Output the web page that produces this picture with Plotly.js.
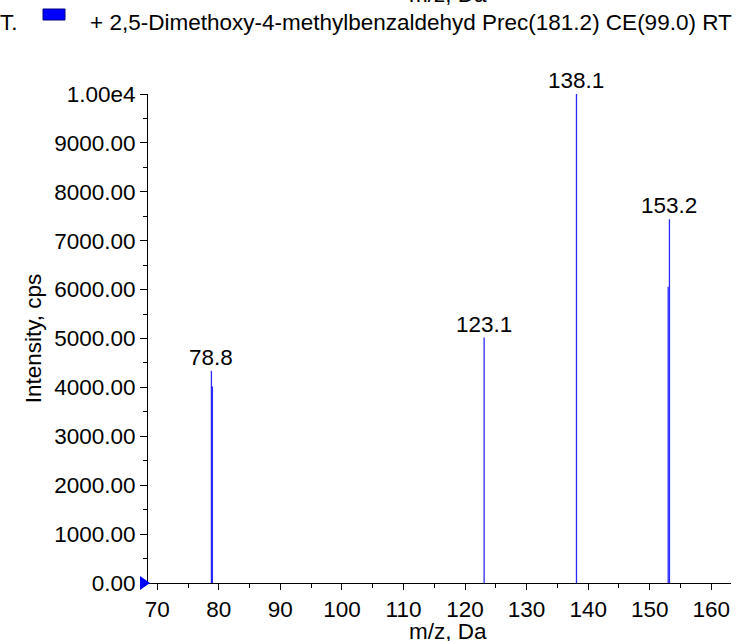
<!DOCTYPE html>
<html>
<head>
<meta charset="utf-8">
<script src="https://cdn.plot.ly/plotly-3.0.1.min.js"></script>
<style>
html,body{margin:0;padding:0;background:#fff;}
#chart{width:746px;height:641px;}
</style>
</head>
<body>
<div id="chart"></div>
<script>
// Data
var peakMz = [78.8, 78.96, 123.1, 138.1, 153.0, 153.2];
var peakIntensity = [4340, 4020, 5020, 10000, 6060, 7440];
var labelMz = [78.8, 123.1, 138.1, 153.2];
var labelIntensity = [4340, 5020, 10000, 7440];
var labelText = ["78.8", "123.1", "138.1", "153.2"];
var xTickVals = [70, 80, 90, 100, 110, 120, 130, 140, 150, 160];
var xTickText = ["70", "80", "90", "100", "110", "120", "130", "140", "150", "160"];
var yTickVals = [0, 1000, 2000, 3000, 4000, 5000, 6000, 7000, 8000, 9000, 10000];
var yTickText = ["0.00", "1000.00", "2000.00", "3000.00", "4000.00", "5000.00", "6000.00", "7000.00", "8000.00", "9000.00", "1.00e4"];
var xTitle = "m/z, Da";
var yTitle = "Intensity, cps";
var legendName = "+ 2,5-Dimethoxy-4-methylbenzaldehyd Prec(181.2) CE(99.0) RT";

var FONT = "Liberation Sans, Arial, sans-serif";
var FS = 22.5;

// stick spectrum built from the peak arrays
var sx = [], sy = [];
for (var i = 0; i < peakMz.length; i++) {
  sx.push(peakMz[i], peakMz[i], null);
  sy.push(0, peakIntensity[i], null);
}

var traces = [{
  type: "scatter",
  mode: "lines",
  x: sx,
  y: sy,
  line: {color: "#2a2aff", width: 1.3},
  hoverinfo: "skip",
  showlegend: false
}];

var annotations = [];
for (var j = 0; j < labelMz.length; j++) {
  annotations.push({
    x: labelMz[j], y: labelIntensity[j], xref: "x", yref: "y",
    text: labelText[j], showarrow: false, yanchor: "bottom", xanchor: "center",
    yshift: -1, font: {family: FONT, size: FS, color: "#000"}
  });
}
// legend row (cropped from a larger figure)
annotations.push({
  xref: "paper", yref: "paper", x: 0, y: 1, xshift: -150, yshift: 72,
  xanchor: "left", yanchor: "middle", text: "T.", showarrow: false,
  font: {family: FONT, size: FS, color: "#000"}
});
annotations.push({
  xref: "paper", yref: "paper", x: 0, y: 1, xshift: -60, yshift: 72,
  xanchor: "left", yanchor: "middle", text: legendName, showarrow: false,
  font: {family: FONT, size: FS, color: "#000"}
});
// cropped axis title of the panel above
annotations.push({
  xref: "paper", yref: "paper", x: 0.5, y: 1, xshift: 8, yshift: 85,
  xanchor: "center", yanchor: "bottom", text: xTitle, showarrow: false,
  font: {family: FONT, size: FS, color: "#000"}
});
// x axis title
annotations.push({
  xref: "paper", yref: "paper", x: 0.5, y: 0, xshift: 8, yshift: -48,
  xanchor: "center", yanchor: "middle", text: xTitle, showarrow: false,
  font: {family: FONT, size: FS, color: "#000"}
});

var shapes = [
  // legend swatch
  {type: "rect", xref: "paper", yref: "paper", xsizemode: "pixel", ysizemode: "pixel",
   xanchor: 0, yanchor: 1, x0: -105, x1: -83, y0: 74, y1: 85,
   fillcolor: "#0000ff", line: {color: "#000080", width: 1}},
  // blue marker at the origin
  {type: "path", xref: "paper", yref: "paper", xsizemode: "pixel", ysizemode: "pixel",
   xanchor: 0, yanchor: 0, path: "M-8,-7 L2,0 L-8,7 Z",
   fillcolor: "#0000ff", line: {color: "#0000ff", width: 0}}
];

var layout = {
  width: 746, height: 641,
  margin: {l: 148, r: 15, t: 94, b: 58},
  paper_bgcolor: "#fff", plot_bgcolor: "#fff",
  font: {family: FONT, size: FS, color: "#000"},
  showlegend: false,
  xaxis: {
    range: [68.5, 163.2], showgrid: false, zeroline: false,
    showline: true, linecolor: "#000", linewidth: 1,
    ticks: "outside", ticklen: 6, tickcolor: "#000", tickwidth: 1,
    tickmode: "array", tickvals: xTickVals, ticktext: xTickText,
    tickfont: {family: FONT, size: FS, color: "#000"},
    minor: {dtick: 5, ticks: "outside", ticklen: 4, tickcolor: "#000", showgrid: false}
  },
  yaxis: {
    range: [0, 10000], showgrid: false, zeroline: false,
    showline: true, linecolor: "#000", linewidth: 1,
    ticks: "outside", ticklen: 7, tickcolor: "#000", tickwidth: 1,
    tickmode: "array", tickvals: yTickVals, ticktext: yTickText,
    tickfont: {family: FONT, size: FS, color: "#000"},
    minor: {dtick: 500, ticks: "outside", ticklen: 4, tickcolor: "#000", showgrid: false},
    title: {text: yTitle, font: {family: FONT, size: FS, color: "#000"}, standoff: 6}
  },
  annotations: annotations,
  shapes: shapes
};

Plotly.newPlot("chart", traces, layout, {displayModeBar: false, staticPlot: true});
</script>
</body>
</html>
